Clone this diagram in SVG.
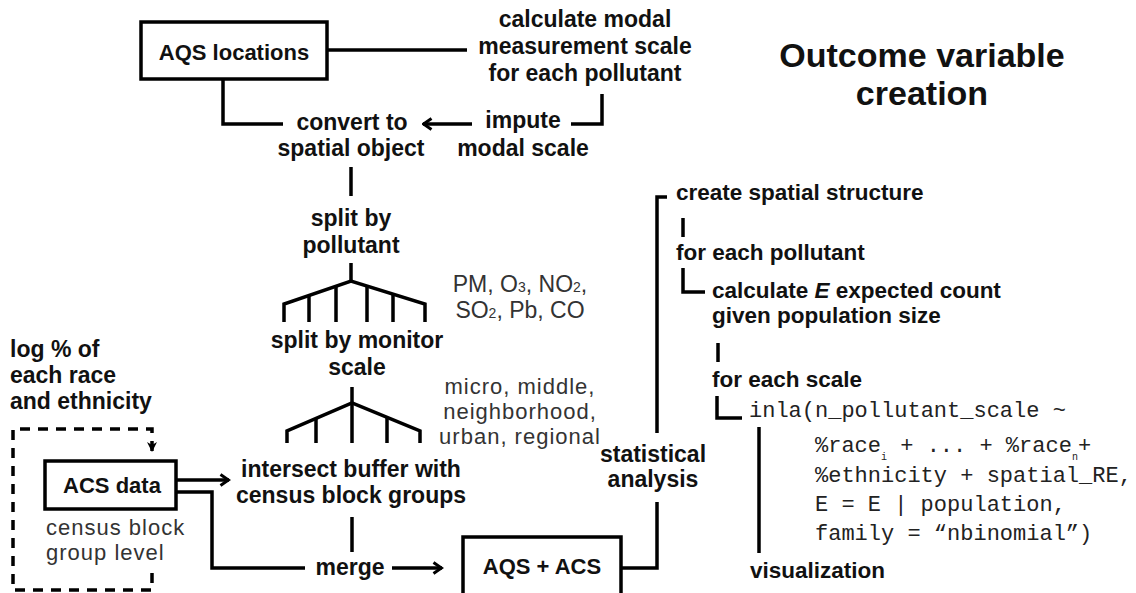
<svg xmlns="http://www.w3.org/2000/svg" width="1136" height="593" viewBox="0 0 1136 593">
<defs>
<style>
.b{font-family:"Liberation Sans",Arial,sans-serif;font-weight:bold;font-size:23px;fill:#111;text-anchor:middle}
.bs{text-anchor:start}
.g{font-family:"Liberation Sans",Arial,sans-serif;font-size:22px;letter-spacing:1px;fill:#333;text-anchor:middle}
.m{font-family:"Liberation Mono","Courier New",monospace;font-size:22px;fill:#222}
.box{fill:#fff;stroke:#000;stroke-width:3.5}
.ln{fill:none;stroke:#000;stroke-width:3.5}
.dash{fill:none;stroke:#000;stroke-width:3.5;stroke-dasharray:10 8}
</style>
<marker id="arr" viewBox="0 0 12 14" refX="10.5" refY="7" markerWidth="12" markerHeight="14" markerUnits="userSpaceOnUse" orient="auto">
<path d="M2,1.5 L10,7 L2,12.5" fill="none" stroke="#000" stroke-width="3"/>
</marker>
<marker id="arrf" viewBox="0 0 12 10" refX="10" refY="5" markerWidth="12" markerHeight="10" markerUnits="userSpaceOnUse" orient="auto">
<path d="M0,0 L10,5 L0,10 L3,5 Z" fill="#000"/>
</marker>
</defs>
<rect width="1136" height="593" fill="#fff"/>

<g id="connectors">
<path class="ln" d="M328,50 H467"/>
<path class="ln" d="M602,94 V124 H571"/>
<path class="ln" d="M472,124 H423" marker-end="url(#arr)"/>
<path class="ln" d="M223,80 V124 H283"/>
<path class="ln" d="M351,167 V196"/>
<path class="ln" d="M352,517 V552"/>
<path class="ln" d="M176,480 H229" marker-end="url(#arr)"/>
<path class="ln" d="M176,492 H212 V568 H305"/>
<path class="ln" d="M392,568 H442" marker-end="url(#arr)"/>
<path class="ln" d="M621,568 H657 V502"/>
<path class="ln" d="M667,197 H657 V433"/>
<path class="ln" d="M683,218 V237"/>
<path class="ln" d="M683,268 V292 H705"/>
<path class="ln" d="M718,343 V362"/>
<path class="ln" d="M717,396 V418 H742"/>
<path class="ln" d="M759,427 V553"/>
<path class="dash" d="M152,573 V590 H13 V429 H152 V452" marker-end="url(#arrf)"/>
</g>

<g id="tree-pollutant">
<path class="ln" d="M351,263 V281"/>
<path class="ln" d="M284,322 V304 L351,281 L425,304 V322"/>
<path class="ln" d="M309,295.4 V322 M336,286.1 V322 M367,286 V322 M393,294 V322"/>
</g>

<g id="tree-scale">
<path class="ln" d="M352,387 V443"/>
<path class="ln" d="M287,443 V431 L352,403 L420,431 V443"/>
<path class="ln" d="M316,418.5 V443 M387,417.4 V443"/>
</g>

<g id="title">
<text class="b" style="font-size:34px" x="922" y="67">Outcome variable</text>
<text class="b" style="font-size:34px" x="922" y="105">creation</text>
</g>

<g id="aqs-locations">
<rect class="box" x="141" y="22" width="186" height="57"/>
<text class="b" style="font-size:22px" x="234" y="60">AQS locations</text>
</g>

<g id="calc-modal">
<text class="b" x="585" y="27">calculate modal</text>
<text class="b" x="585" y="54">measurement scale</text>
<text class="b" x="585" y="81">for each pollutant</text>
</g>

<g id="impute">
<text class="b" x="523" y="128">impute</text>
<text class="b" x="523" y="156">modal scale</text>
</g>

<g id="convert">
<text class="b" x="352" y="130">convert to</text>
<text class="b" x="351" y="156">spatial object</text>
</g>

<g id="split-pollutant">
<text class="b" x="351" y="226">split by</text>
<text class="b" x="351" y="253">pollutant</text>
</g>

<g id="pollutant-list">
<text class="g" style="font-size:23px;letter-spacing:0" x="520" y="292">PM, O<tspan style="font-size:14px">3</tspan>, NO<tspan style="font-size:14px">2</tspan>,</text>
<text class="g" style="font-size:23px;letter-spacing:0" x="520" y="318">SO<tspan style="font-size:14px">2</tspan>, Pb, CO</text>
</g>

<g id="split-scale">
<text class="b" x="357" y="348">split by monitor</text>
<text class="b" x="357" y="375">scale</text>
</g>

<g id="scale-list">
<text class="g" x="520" y="394">micro, middle,</text>
<text class="g" x="520" y="419">neighborhood,</text>
<text class="g" x="520" y="444">urban, regional</text>
</g>

<g id="log-race">
<text class="b bs" x="10" y="357">log % of</text>
<text class="b bs" x="10" y="383">each race</text>
<text class="b bs" x="10" y="409">and ethnicity</text>
</g>

<g id="acs-data">
<rect class="box" x="45" y="461" width="131" height="48"/>
<text class="b" style="font-size:22px" x="112" y="493">ACS data</text>
<text class="g" style="text-anchor:start" x="46" y="535">census block</text>
<text class="g" style="text-anchor:start" x="46" y="560">group level</text>
</g>

<g id="intersect">
<text class="b" x="351" y="477">intersect buffer with</text>
<text class="b" x="351" y="503">census block groups</text>
</g>

<g id="merge">
<text class="b" x="350" y="575">merge</text>
</g>

<g id="aqs-acs">
<rect class="box" x="463" y="537" width="158" height="70"/>
<text class="b" style="font-size:22px" x="542" y="574">AQS + ACS</text>
</g>

<g id="statistical">
<text class="b" x="653" y="462">statistical</text>
<text class="b" x="653" y="487">analysis</text>
</g>

<g id="create-spatial">
<text class="b bs" style="font-size:22.5px" x="676" y="200">create spatial structure</text>
</g>

<g id="each-pollutant">
<text class="b bs" style="font-size:22.5px" x="676" y="260">for each pollutant</text>
</g>

<g id="calc-e">
<text class="b bs" style="font-size:22.5px" x="712" y="298">calculate <tspan font-style="italic">E</tspan> expected count</text>
<text class="b bs" style="font-size:22.5px" x="712" y="323">given population size</text>
</g>

<g id="each-scale">
<text class="b bs" style="font-size:22.5px" x="712" y="387">for each scale</text>
</g>

<g id="inla">
<text class="m" x="749" y="417">inla(n_pollutant_scale ~</text>
<text class="m" x="815" y="452" xml:space="preserve">%race<tspan style="font-size:10px" dy="8">i</tspan><tspan dy="-8"> + ... + %race</tspan><tspan style="font-size:10px" dy="8">n</tspan><tspan dy="-8">+</tspan></text>
<text class="m" x="815" y="482">%ethnicity + spatial_RE,</text>
<text class="m" x="815" y="511">E = E | population,</text>
<text class="m" x="815" y="540">family = “nbinomial”)</text>
</g>

<g id="visualization">
<text class="b bs" style="font-size:22.5px" x="750" y="578">visualization</text>
</g>
</svg>
